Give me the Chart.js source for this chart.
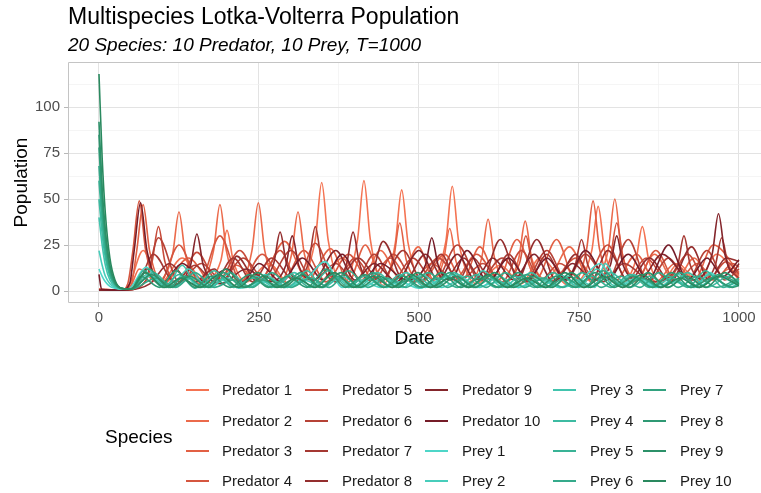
<!DOCTYPE html>
<html>
<head>
<meta charset="utf-8">
<title>Multispecies Lotka-Volterra Population</title>
<script src="https://cdn.jsdelivr.net/npm/chart.js@4.4.1/dist/chart.umd.min.js"></script>
<style>
  body { margin: 0; background: #fff; font-family: "Liberation Sans", Arial, sans-serif; }
  #wrap { position: relative; width: 761px; height: 493px; }
  #lvChart { position: absolute; left: 0; top: 0; }
  .legendTitle { position: absolute; font-size: 19px; line-height: 24px; color: #000; }
  .legendItem { position: absolute; height: 20px; font-size: 15px; line-height: 20px; color: #1a1a1a; white-space: nowrap; }
  .legendItem .swatch { position: absolute; left: 0; top: 9px; width: 23px; height: 2px; }
  .legendItem .label { position: absolute; top: 0; }
</style>
</head>
<body>
<div id="wrap">
  <canvas id="lvChart" width="761" height="493"></canvas>
  <div id="legend"></div>
</div>
<script>
// names + colours, predators first then prey (legend order)
const speciesNames = [
  'Predator 1', 'Predator 2', 'Predator 3', 'Predator 4', 'Predator 5',
  'Predator 6', 'Predator 7', 'Predator 8', 'Predator 9', 'Predator 10',
  'Prey 1', 'Prey 2', 'Prey 3', 'Prey 4', 'Prey 5',
  'Prey 6', 'Prey 7', 'Prey 8', 'Prey 9', 'Prey 10'
];
const speciesColors = [
  '#f47352', '#eb6a4b', '#e26044', '#d5563f', '#c74b3a',
  '#b64236', '#a53832', '#942e2e', '#84252b', '#751c28',
  '#4ed6c8', '#47cdbb', '#42c4ae', '#3dbba2', '#39b396',
  '#35aa8b', '#32a27f', '#2f9974', '#2c9169', '#2a895f'
];

// [date, population]
const predator1 = [[0,1],[30,0.5],[45,2],[69,22],[95,4],[130,18],[165,5],[190,16],[200,33],[210,16],[230,5],[265,15],[300,3],[338,28],[348,59],[358,28],[380,3],[404,28],[414,60],[424,28],[444,3],[463,26],[473,55],[483,26],[510,3],[542,27],[552,57],[562,27],[590,4],[627,14],[660,4],[689,18],[735,3],[770,22],[780,46],[790,22],[815,4],[839,17],[849,35],[859,17],[878,4],[905,15],[935,5],[965,20],[1000,6]];
const predator2 = [[0,0.5],[35,0.5],[50,3],[63,12],[90,5],[115,20],[125,43],[135,20],[157,4],[179,22],[189,47],[199,22],[220,4],[239,22],[249,48],[259,22],[280,4],[301,20],[311,43],[321,20],[345,5],[380,18],[410,6],[440,22],[470,7],[499,24],[523,6],[538,16],[548,34],[558,16],[580,5],[598,18],[608,39],[618,18],[637,5],[656,18],[666,38],[676,18],[700,6],[735,24],[770,5],[796,23],[806,50],[816,23],[838,5],[868,20],[900,5],[930,18],[958,6],[985,12],[1000,8]];
const predator3 = [[0,1],[35,0.5],[50,3],[59,22],[69,47],[79,22],[100,4],[140,18],[178,4],[215,14],[250,5],[290,27],[326,6],[362,23],[390,5],[416,25],[443,6],[460,17],[470,37],[480,17],[505,5],[540,20],[568,6],[595,24],[624,6],[653,28],[684,7],[715,28],[744,6],[762,23],[772,49],[782,23],[805,5],[840,20],[870,5],[900,15],[930,6],[960,25],[1000,10]];
const predator4 = [[0,1],[35,0.5],[45,4],[53,22],[63,49],[73,22],[94,4],[125,25],[157,5],[189,30],[222,5],[255,20],[288,6],[320,22],[355,5],[390,20],[422,6],[455,18],[488,5],[520,15],[555,6],[590,20],[628,5],[657,15],[667,30],[677,15],[706,5],[745,18],[777,6],[799,18],[809,37],[819,18],[840,6],[870,22],[902,5],[935,15],[962,6],[990,15],[1000,13]];
const predator5 = [[0,0.5],[40,0.5],[70,4],[83,16],[93,35],[103,16],[122,4],[153,21],[186,5],[220,22],[252,6],[283,22],[310,6],[338,26],[370,5],[400,18],[430,6],[460,20],[495,5],[530,18],[565,6],[600,15],[630,5],[660,22],[690,6],[720,15],[758,5],[795,25],[825,6],[855,18],[888,6],[920,20],[950,5],[980,16],[1000,9]];
const predator6 = [[0,0.5],[40,0.5],[72,5],[93,29],[125,5],[160,15],[192,6],[225,18],[262,5],[300,22],[335,6],[370,15],[400,5],[430,20],[460,6],[490,18],[525,5],[560,25],[595,6],[630,18],[665,5],[700,22],[730,6],[760,20],[795,6],[827,28],[858,5],[890,18],[920,6],[950,22],[978,6],[1000,12]];
const predator7 = [[0,0.5],[40,0.5],[62,4],[85,20],[118,5],[150,14],[180,5],[210,18],[240,5],[270,18],[304,6],[328,16],[338,35],[348,16],[372,5],[405,18],[440,5],[475,22],[505,6],[535,20],[560,5],[585,18],[612,6],[640,20],[670,5],[700,20],[726,6],[744,14],[754,28],[764,14],[787,5],[820,15],[865,5],[904,14],[914,30],[924,14],[945,6],[963,14],[973,29],[983,14],[1000,7]];
const predator8 = [[0,0.5],[40,0.5],[80,4],[110,15],[145,4],[180,12],[198,6],[215,19],[248,5],[273,15],[283,32],[293,15],[315,5],[350,15],[372,6],[387,15],[397,32],[407,15],[422,6],[444,27],[477,5],[510,20],[540,6],[570,18],[598,6],[627,28],[655,7],[684,28],[714,6],[745,20],[770,6],[795,22],[828,5],[860,18],[893,5],[926,24],[953,6],[980,18],[1000,16]];
const predator9 = [[0,0.5],[40,0.5],[60,4],[75,12],[110,3],[143,14],[153,31],[163,14],[190,4],[230,12],[265,5],[292,14],[302,30],[312,14],[336,6],[370,22],[400,6],[430,15],[465,5],[500,22],[530,6],[560,20],[588,6],[615,18],[648,6],[680,20],[710,5],[740,15],[772,6],[799,14],[809,30],[819,14],[845,6],[880,20],[925,6],[958,20],[968,42],[978,20],[990,10],[1000,15]];
const predator10 = [[0,9],[4,1],[35,0.5],[48,4],[55,22],[65,48],[75,22],[98,4],[130,15],[165,5],[200,12],[225,5],[250,15],[285,5],[318,18],[350,6],[380,20],[410,5],[440,15],[480,6],[510,14],[520,29],[530,14],[550,6],[575,22],[608,5],[640,18],[670,6],[700,18],[730,6],[760,22],[795,6],[827,20],[858,6],[890,25],[920,6],[950,18],[975,8],[1000,17]];

const prey1 = [[0,12],[5,8],[10,5],[17,2.5],[25,1.5],[35,1],[45,1],[74,13],[100,2],[133,8],[160,2],[190,6],[220,1.5],[255,5],[290,2],[325,7],[353,16],[380,2],[410,6],[440,2],[470,5],[500,1.5],[530,6],[561,9],[590,2],[625,5],[655,2],[690,6],[720,2],[750,5],[783,15],[810,3],[840,7],[870,2],[900,5],[930,2],[955,10],[980,3],[1000,5]];
const prey2 = [[0,22],[5,14],[10,8],[17,4],[25,2],[35,1],[50,1],[80,8],[110,2],[140,12],[170,2],[200,7],[230,2],[260,9],[290,2],[320,6],[350,2],[380,8],[410,2],[445,7],[475,2],[505,9],[535,2],[565,6],[595,2],[625,8],[655,2],[690,7],[720,2],[750,6],[775,2],[791,15],[815,3],[845,7],[875,2],[905,9],[935,2],[965,8],[1000,3]];
const prey3 = [[0,40],[5,25],[10,14],[17,6],[25,2.5],[35,1.2],[50,1],[75,9],[105,2],[130,14],[155,2],[185,9],[215,2],[245,8],[275,2],[305,10],[335,2],[365,9],[395,2],[420,7],[450,2],[480,10],[510,2],[545,8],[575,2],[600,11],[630,2],[660,8],[690,2],[720,9],[750,2],[778,12],[805,3],[835,9],[865,2],[895,7],[925,2],[955,9],[985,2],[1000,4]];
const prey4 = [[0,50],[5,31],[10,18],[17,8],[25,3],[35,1.3],[50,1],[85,10],[115,2],[145,7],[175,2],[205,10],[235,2],[265,7],[295,2],[325,11],[350,2],[375,7],[405,2],[435,10],[465,2],[495,8],[525,2],[555,10],[585,2],[615,7],[645,2],[675,10],[705,2],[735,8],[765,2],[800,10],[830,2],[860,8],[890,2],[920,10],[950,2],[985,8],[1000,5]];
const prey5 = [[0,60],[5,37],[10,21],[17,9],[25,3.5],[35,1.4],[50,1],[70,11],[100,2],[125,9],[150,1.5],[180,11],[210,2],[240,7],[270,2],[300,9],[330,2],[358,11],[390,2],[415,8],[445,2],[470,9],[500,2],[530,7],[560,2],[590,9],[620,2],[650,8],[680,2],[710,10],[740,2],[770,8],[800,2],[830,9],[860,2],[890,8],[920,2],[948,11],[975,2],[1000,6]];
const prey6 = [[0,68],[5,42],[10,24],[17,10],[25,4],[35,1.4],[50,1],[90,7],[120,2],[150,10],[180,2],[210,6],[240,2],[270,10],[300,2],[330,7],[360,2],[390,11],[420,2],[450,7],[480,2],[515,10],[545,2],[575,8],[605,2],[635,10],[665,2],[695,7],[725,2],[755,10],[785,2],[815,8],[845,2],[875,10],[905,2],[935,8],[965,2],[1000,7]];
const prey7 = [[0,78],[5,48],[10,28],[17,12],[25,4],[35,1.5],[50,1],[78,12],[108,2],[135,8],[165,2],[195,10],[225,2],[255,6],[285,2],[315,10],[345,2],[372,8],[402,2],[428,10],[458,2],[488,7],[518,2],[548,10],[578,2],[608,8],[638,2],[668,9],[698,2],[728,7],[758,2],[788,11],[818,2],[848,7],[878,2],[908,10],[938,2],[968,9],[1000,4]];
const prey8 = [[0,85],[5,52],[10,30],[17,13],[25,4.5],[35,1.5],[50,1],[65,8],[95,2],[120,11],[150,2],[175,8],[205,2],[235,9],[265,2],[295,8],[325,2],[355,12],[385,2],[415,9],[445,2],[475,8],[505,2],[535,10],[565,2],[595,7],[625,2],[655,10],[685,2],[715,8],[745,2],[775,10],[805,2],[835,8],[865,2],[895,10],[925,2],[958,7],[990,2],[1000,3]];
const prey9 = [[0,92],[5,56],[10,33],[17,14],[25,5],[35,1.5],[50,1],[82,9],[112,2],[142,8],[172,2],[198,12],[228,2],[258,8],[288,2],[318,9],[348,2],[378,10],[408,2],[438,8],[468,2],[498,10],[528,2],[558,8],[588,2],[618,10],[648,2],[678,8],[708,2],[738,10],[768,2],[798,8],[828,2],[858,10],[888,2],[918,8],[948,2],[978,10],[1000,4]];
const prey10 = [[0,118],[5,72],[10,42],[17,18],[25,6],[35,1.5],[50,1],[72,10],[102,2],[128,7],[158,2],[188,9],[218,2],[248,10],[278,2],[308,7],[338,2],[368,10],[398,2],[428,8],[458,2],[488,9],[518,2],[548,7],[578,2],[608,9],[638,2],[668,7],[698,2],[728,10],[758,2],[788,8],[818,2],[848,9],[878,2],[908,7],[938,2],[968,8],[1000,3]];

const seriesData = [
  predator1, predator2, predator3, predator4, predator5,
  predator6, predator7, predator8, predator9, predator10,
  prey1, prey2, prey3, prey4, prey5, prey6, prey7, prey8, prey9, prey10
];

// major breaks get labels, minor ones only a faint grid line
const xMajor = [0, 250, 500, 750, 1000];
const xMinor = [125, 375, 625, 875];
const yMajor = [0, 25, 50, 75, 100];
const yMinor = [12.5, 37.5, 62.5, 87.5, 112.5];

const font = '"Liberation Sans", Arial, sans-serif';

const gridOpts = (major) => ({
  color: (c) => major.includes(c.tick && c.tick.value) ? '#e3e3e3' : '#f1f1f1',
  lineWidth: (c) => major.includes(c.tick && c.tick.value) ? 1 : 0.7,
  tickColor: (c) => major.includes(c.tick && c.tick.value) ? '#b8b8b8' : 'rgba(0,0,0,0)',
  tickLength: 4,
  drawTicks: true
});

// ggplot style border round the panel (right side runs off the picture)
const panelBorder = {
  id: 'panelBorder',
  afterDatasetsDraw(chart) {
    const { ctx, chartArea: { left, top, right, bottom } } = chart;
    ctx.save();
    ctx.strokeStyle = '#c4c4c4';
    ctx.lineWidth = 1;
    ctx.beginPath();
    ctx.moveTo(right, top + 0.5);
    ctx.lineTo(left + 0.5, top + 0.5);
    ctx.lineTo(left + 0.5, bottom - 0.5);
    ctx.lineTo(right, bottom - 0.5);
    ctx.stroke();
    ctx.restore();
  }
};

const datasets = speciesNames.map((name, i) => ({
  label: name,
  data: seriesData[i].map(([x, y]) => ({ x, y })),
  borderColor: speciesColors[i],
  borderWidth: 1.6,
  pointRadius: 0,
  fill: false,
  cubicInterpolationMode: 'monotone',
  order: speciesNames.length - i
}));

new Chart(document.getElementById('lvChart'), {
  type: 'line',
  data: { datasets },
  plugins: [panelBorder],
  options: {
    responsive: false,
    animation: false,
    events: [],
    layout: { padding: { left: 0, top: 0, right: 0, bottom: 138 } },
    plugins: {
      legend: { display: false },
      tooltip: { enabled: false },
      title: {
        display: true,
        text: 'Multispecies Lotka-Volterra Population',
        align: 'start',
        fullSize: false,
        color: '#000',
        font: { family: font, size: 23, weight: 'normal' },
        padding: { top: 4, bottom: 2.5 }
      },
      subtitle: {
        display: true,
        text: '20 Species: 10 Predator, 10 Prey, T=1000',
        align: 'start',
        fullSize: false,
        color: '#000',
        font: { family: font, size: 19, style: 'italic' },
        padding: { top: 0, bottom: 5.1 }
      }
    },
    scales: {
      x: {
        type: 'linear',
        min: -48.4,
        max: 1034.4,
        afterFit: (s) => { s.height = 52; },
        afterBuildTicks: (s) => {
          s.ticks = [...xMajor, ...xMinor].sort((a, b) => a - b).map(v => ({ value: v }));
        },
        ticks: {
          autoSkip: false,
          maxRotation: 0,
          padding: 2,
          color: '#4d4d4d',
          font: { family: font, size: 15 },
          callback: (v) => xMajor.includes(v) ? String(v) : ''
        },
        grid: gridOpts(xMajor),
        border: { display: false },
        title: {
          display: true,
          text: 'Date',
          color: '#000',
          font: { family: font, size: 19 },
          padding: { top: 0, bottom: 5 }
        }
      },
      y: {
        type: 'linear',
        min: -6.5,
        max: 124.5,
        afterFit: (s) => { s.width = 68; },
        afterBuildTicks: (s) => {
          s.ticks = [...yMajor, ...yMinor].sort((a, b) => a - b).map(v => ({ value: v }));
        },
        ticks: {
          autoSkip: false,
          padding: 4,
          color: '#4d4d4d',
          font: { family: font, size: 15 },
          callback: (v) => yMajor.includes(v) ? String(v) : ''
        },
        grid: gridOpts(yMajor),
        border: { display: false },
        title: {
          display: true,
          text: 'Population',
          color: '#000',
          font: { family: font, size: 19 },
          padding: { top: 10, bottom: 0 }
        }
      }
    }
  }
});

// legend: "Species" on the left, 5 columns filled top to bottom
const legendEl = document.getElementById('legend');
const colSwatchX = [186, 305, 425, 553, 643];
const colTextX = [222, 342, 462, 590, 680];
const rowY = [390, 421, 451, 481];

const legendTitle = document.createElement('div');
legendTitle.className = 'legendTitle';
legendTitle.textContent = 'Species';
legendTitle.style.left = '105px';
legendTitle.style.top = (437 - 12) + 'px';
legendEl.appendChild(legendTitle);

speciesNames.forEach((name, i) => {
  const col = Math.floor(i / 4);
  const row = i % 4;
  const item = document.createElement('div');
  item.className = 'legendItem';
  item.style.left = colSwatchX[col] + 'px';
  item.style.top = (rowY[row] - 10) + 'px';
  const sw = document.createElement('span');
  sw.className = 'swatch';
  sw.style.background = speciesColors[i];
  const lbl = document.createElement('span');
  lbl.className = 'label';
  lbl.style.left = (colTextX[col] - colSwatchX[col]) + 'px';
  lbl.textContent = name;
  item.appendChild(sw);
  item.appendChild(lbl);
  legendEl.appendChild(item);
});
</script>
</body>
</html>
